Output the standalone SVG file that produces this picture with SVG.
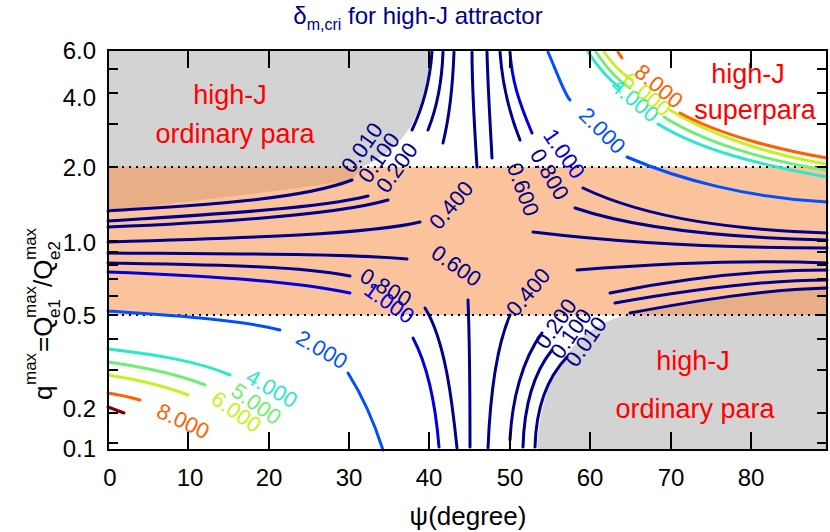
<svg xmlns="http://www.w3.org/2000/svg" width="830" height="532" viewBox="0 0 830 532">
<style>
text{font-family:"Liberation Sans",Arial,sans-serif}
.tk{font-size:24px;fill:#000}
.c{fill:none;stroke-width:3;stroke-linecap:round}
.n{stroke:#000088}.b{stroke:#0000dd}
.lb{font-size:22px;text-anchor:middle}
.red{fill:#ff0000;font-size:27px;text-anchor:middle}
.tick{stroke:#000;stroke-width:2}
</style>
<rect width="830" height="532" fill="#fff"/>
<g id="regions">
<rect x="108" y="167" width="719" height="148" fill="#fbc39c"/>
<path d="M108 50 H431 C428 110 405 150 362 167 H108 Z" fill="#d3d3d3"/>
<path d="M108 167 H362 L352 180 C290 190 200 200 108 211 Z" fill="#e8ae86"/>
<path d="M537 450 C540 380 570 330 625 315 H827 V450 Z" fill="#d3d3d3"/>
<path d="M630 313 C700 300 760 290 827 285 V315 H630 Z" fill="#e8ae86"/>
<line x1="108" y1="167" x2="827" y2="167" stroke="#000" stroke-width="2" stroke-dasharray="2,5"/>
<line x1="108" y1="315" x2="827" y2="315" stroke="#000" stroke-width="2" stroke-dasharray="2,5"/>
</g>
<g id="contours">
<path class="c n" d="M108 211 C200 205 300 200 352 180"/>
<path class="c n" d="M108 221 C220 214 320 208 368 196"/>
<path class="c n" d="M108 227 C230 222 340 214 388 200"/>
<path class="c n" d="M108 242 C250 238 370 234 420 222"/>
<path class="c n" d="M108 253 C250 254 350 254 407 259"/>
<path class="c n" d="M108 263 C220 265 300 266 350 276"/>
<path class="c b" d="M108 272 C220 276 300 282 350 293"/>
<path class="c n" d="M425 308 C445 340 452 400 457 448"/>
<path class="c b" d="M413 338 C430 370 436 410 439 447"/>
<path class="c n" d="M468 300 C470 350 470 400 470 447"/>
<path class="c n" d="M510 315 C495 350 490 400 488 448"/>
<path class="c n" d="M542 333 C522 360 512 400 510 440"/>
<path class="c n" d="M552 350 C532 375 524 410 523 447"/>
<path class="c n" d="M567 357 C545 380 536 410 535 447"/>
<path class="c n" d="M577 270 C680 262 760 260 827 263"/>
<path class="c n" d="M610 293 C700 275 770 270 827 270"/>
<path class="c n" d="M615 303 C700 288 770 280 827 280"/>
<path class="c n" d="M630 313 C700 300 760 290 827 288"/>
<path class="c n" d="M533 232 C640 245 740 248 827 248"/>
<path class="c n" d="M575 208 C640 230 740 238 827 240"/>
<path class="c n" d="M583 188 C650 220 740 230 827 233"/>
<path class="c n" d="M412 130 C424 105 430 80 432 52"/>
<path class="c n" d="M428 130 C438 105 442 80 443 52"/>
<path class="c n" d="M443 143 C451 110 453 80 454 52"/>
<path class="c n" d="M477 167 C474 120 472 90 472 52"/>
<path class="c n" d="M492 158 C490 120 488 90 487 52"/>
<path class="c n" d="M520 140 C508 110 502 80 500 52"/>
<path class="c b" d="M532 133 C518 100 512 80 510 52"/>
<path class="c" stroke="#0050ff" d="M548 52 C560 80 565 95 570 100"/>
<path class="c" stroke="#0050ff" d="M627 157 C680 180 750 198 827 202"/>
<path class="c" stroke="#0050ff" d="M108 311 C180 316 240 320 280 330"/>
<path class="c" stroke="#0050ff" d="M348 373 C365 400 375 425 383 450"/>
<path class="c" stroke="#2ae8c8" d="M588 52 C600 70 612 82 620 88"/>
<path class="c" stroke="#2ae8c8" d="M658 124 C700 150 760 165 827 177"/>
<path class="c" stroke="#70ee70" d="M596 52 C608 70 620 82 630 88"/>
<path class="c" stroke="#70ee70" d="M664 117 C700 140 760 160 827 170"/>
<path class="c" stroke="#c8f020" d="M604 52 C614 66 622 74 632 80"/>
<path class="c" stroke="#c8f020" d="M670 110 C710 135 770 155 827 164"/>
<path class="c" stroke="#ff6000" d="M618 52 L622 58"/>
<path class="c" stroke="#ff6000" d="M680 113 C720 135 780 150 827 158"/>
<path class="c" stroke="#2ae8c8" d="M108 349 C160 355 200 362 230 375"/>
<path class="c" stroke="#70ee70" d="M108 362 C150 368 180 375 205 385"/>
<path class="c" stroke="#c8f020" d="M108 375 C140 380 165 386 188 395"/>
<path class="c" stroke="#ff6000" d="M108 393 C120 395 130 397 140 400"/>
<path class="c" stroke="#800000" d="M108 407 L124 413"/>
</g>
<g id="labels">
<text class="lb" fill="#000088" transform="translate(368,152) rotate(-55)">0.010</text>
<text class="lb" fill="#000088" transform="translate(385,162) rotate(-55)">0.100</text>
<text class="lb" fill="#000088" transform="translate(403,172) rotate(-55)">0.200</text>
<text class="lb" fill="#000088" transform="translate(457,210) rotate(-50)">0.400</text>
<text class="lb" fill="#000088" transform="translate(452,272) rotate(35)">0.600</text>
<text class="lb" fill="#000088" transform="translate(382,294) rotate(30)">0.800</text>
<text class="lb" fill="#0000dd" transform="translate(385,309) rotate(35)">1.000</text>
<text class="lb" fill="#000088" transform="translate(516,192) rotate(70)">0.600</text>
<text class="lb" fill="#000088" transform="translate(543,178) rotate(60)">0.800</text>
<text class="lb" fill="#0000dd" transform="translate(558,158) rotate(55)">1.000</text>
<text class="lb" fill="#000088" transform="translate(534,297) rotate(-50)">0.400</text>
<text class="lb" fill="#000088" transform="translate(562,328) rotate(-55)">0.200</text>
<text class="lb" fill="#000088" transform="translate(577,338) rotate(-55)">0.100</text>
<text class="lb" fill="#000088" transform="translate(592,346) rotate(-55)">0.010</text>
<text class="lb" fill="#0050ff" transform="translate(597,136) rotate(45)">2.000</text>
<text class="lb" fill="#0050ff" transform="translate(318,356) rotate(30)">2.000</text>
<text class="lb" fill="#2ae8c8" transform="translate(630,106) rotate(40)">4.000</text>
<text class="lb" fill="#c8f020" transform="translate(642,100) rotate(40)">6.000</text>
<text class="lb" fill="#ff6000" transform="translate(654,92) rotate(40)">8.000</text>
<text class="lb" fill="#2ae8c8" transform="translate(268,395) rotate(30)">4.000</text>
<text class="lb" fill="#70ee70" transform="translate(252,410) rotate(35)">5.000</text>
<text class="lb" fill="#c8f020" transform="translate(232,418) rotate(35)">6.000</text>
<text class="lb" fill="#ff6000" transform="translate(180,428) rotate(25)">8.000</text>
<text class="red" x="230" y="104">high-J</text>
<text class="red" x="235" y="143">ordinary para</text>
<text class="red" x="748" y="83">high-J</text>
<text class="red" x="755" y="119">superpara</text>
<text class="red" x="693" y="370">high-J</text>
<text class="red" x="695" y="418">ordinary para</text>
</g>
<g id="axes">
<rect x="108" y="50" width="719" height="400" fill="none" stroke="#000" stroke-width="2"/>
<path class="tick" d="M188 450v-18M269 450v-18M349 450v-18M429 450v-18M510 450v-18M590 450v-18M671 450v-18M751 450v-18M188 50v18M269 50v18M349 50v18M429 50v18M510 50v18M590 50v18M671 50v18M751 50v18"/>
<path class="tick" d="M108 69h10M108 93h10M108 124h10M108 167h10M108 241h10M108 252h10M108 265h10M108 279h10M108 296h10M108 315h10M108 339h10M108 370h10M108 413h10M108 443h10M827 69h-10M827 93h-10M827 124h-10M827 167h-10M827 241h-10M827 252h-10M827 265h-10M827 279h-10M827 296h-10M827 315h-10M827 339h-10M827 370h-10M827 413h-10M827 443h-10"/>
<g class="tk" text-anchor="middle">
<text x="110" y="486">0</text><text x="190" y="486">10</text><text x="269" y="486">20</text><text x="349" y="486">30</text><text x="429" y="486">40</text><text x="510" y="486">50</text><text x="590" y="486">60</text><text x="671" y="486">70</text><text x="751" y="486">80</text>
</g>
<g class="tk" text-anchor="end">
<text x="96" y="59">6.0</text><text x="96" y="106">4.0</text><text x="96" y="176">2.0</text><text x="96" y="251">1.0</text><text x="96" y="324">0.5</text><text x="96" y="417">0.2</text><text x="96" y="457">0.1</text>
</g>
<text x="468" y="525" text-anchor="middle" font-size="26">ψ(degree)</text>
<g transform="rotate(-90)" fill="#000">
<text x="-400" y="52" font-size="26">q</text>
<text x="-385" y="36" font-size="17">max</text>
<text x="-352" y="52" font-size="26">=Q</text>
<text x="-318" y="36" font-size="17">max</text>
<text x="-318" y="60" font-size="17">e1</text>
<text x="-287" y="52" font-size="26">/Q</text>
<text x="-260" y="36" font-size="17">max</text>
<text x="-260" y="60" font-size="17">e2</text>
</g>
<text x="418" y="24" text-anchor="middle" fill="#000088" font-size="24">δ<tspan font-size="16" dy="6">m,cri</tspan><tspan dy="-6"> for high-J attractor</tspan></text>
</g>
</svg>
